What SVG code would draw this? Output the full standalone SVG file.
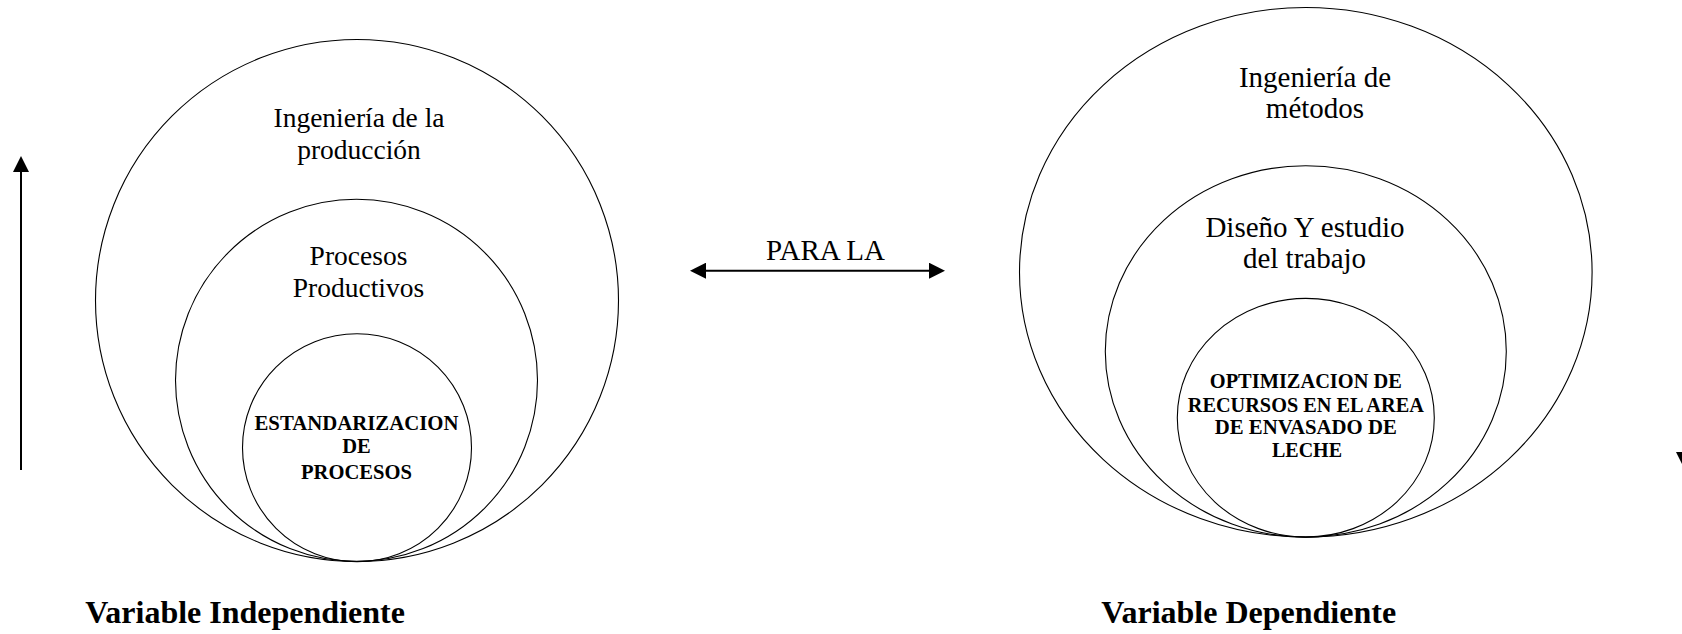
<svg xmlns="http://www.w3.org/2000/svg" width="1682" height="634" viewBox="0 0 1682 634">
  <defs>
    <style>
      .ring { fill: none; stroke: #000; stroke-width: 1.1; }
      .t { font-family: "Liberation Serif", "Times New Roman", serif; fill: #000; text-anchor: middle; }
      .lbl-l { font-size: 27.5px; }
      .lbl-r { font-size: 29px; }
      .core { font-size: 22px; font-weight: bold; }
      .var { font-size: 32px; font-weight: bold; }
      .link { stroke: #000; stroke-width: 2; fill: none; }
    </style>
    <marker id="head" viewBox="0 0 16 16" refX="1" refY="8" markerWidth="16" markerHeight="16" markerUnits="userSpaceOnUse" orient="auto-start-reverse">
      <path d="M0,0 L16,8 L0,16 Z" fill="#000"/>
    </marker>
  </defs>

  <rect width="1682" height="634" fill="#fff"/>

  <!-- Independent variable: nested circles -->
  <g id="ing-produccion">
    <ellipse class="ring" cx="357" cy="300.5" rx="261.5" ry="261"/>
    <text class="t lbl-l" x="359" y="126.5">Ingeniería de la</text>
    <text class="t lbl-l" x="359" y="158.5">producción</text>
  </g>
  <g id="procesos-productivos">
    <ellipse class="ring" cx="356.5" cy="380.3" rx="181" ry="181"/>
    <text class="t lbl-l" x="358.5" y="264.5">Procesos</text>
    <text class="t lbl-l" x="358.5" y="296.8">Productivos</text>
  </g>
  <g id="estandarizacion">
    <ellipse class="ring" cx="357" cy="447.7" rx="114.5" ry="114"/>
    <text class="t core" x="356.5" y="430" textLength="204" lengthAdjust="spacingAndGlyphs">ESTANDARIZACION</text>
    <text class="t core" x="356.5" y="453.3" textLength="28.5" lengthAdjust="spacingAndGlyphs">DE</text>
    <text class="t core" x="356.5" y="479" textLength="111" lengthAdjust="spacingAndGlyphs">PROCESOS</text>
  </g>
  <g id="variable-independiente">
    <text class="t var" x="245" y="623">Variable Independiente</text>
  </g>

  <!-- Dependent variable: nested circles -->
  <g id="ing-metodos">
    <ellipse class="ring" cx="1305.8" cy="272.3" rx="286.3" ry="264.8"/>
    <text class="t lbl-r" x="1315" y="86.5">Ingeniería de</text>
    <text class="t lbl-r" x="1315" y="117.5">métodos</text>
  </g>
  <g id="diseno-estudio">
    <ellipse class="ring" cx="1305.8" cy="351.4" rx="200.5" ry="185.7"/>
    <text class="t lbl-r" x="1305" y="236.7">Diseño Y estudio</text>
    <text class="t lbl-r" x="1304.5" y="268.3">del trabajo</text>
  </g>
  <g id="optimizacion">
    <ellipse class="ring" cx="1305.8" cy="417.7" rx="128.5" ry="119.3"/>
    <text class="t core" x="1305.8" y="388.3" textLength="192" lengthAdjust="spacingAndGlyphs">OPTIMIZACION DE</text>
    <text class="t core" x="1305.8" y="411.7" textLength="236" lengthAdjust="spacingAndGlyphs">RECURSOS EN EL AREA</text>
    <text class="t core" x="1305.8" y="434" textLength="182" lengthAdjust="spacingAndGlyphs">DE ENVASADO DE</text>
    <text class="t core" x="1307" y="456.7" textLength="70" lengthAdjust="spacingAndGlyphs">LECHE</text>
  </g>
  <g id="variable-dependiente">
    <text class="t var" x="1248.7" y="623">Variable Dependiente</text>
  </g>

  <!-- Connectors -->
  <g id="connectors">
    <line class="link" x1="21" y1="470" x2="21" y2="171" marker-end="url(#head)"/>
    <line class="link" x1="1684" y1="155" x2="1684" y2="453" marker-end="url(#head)"/>
    <line class="link" x1="705" y1="270.7" x2="930" y2="270.7" marker-start="url(#head)" marker-end="url(#head)"/>
    <text class="t lbl-r" x="825.5" y="260">PARA LA</text>
  </g>
</svg>
